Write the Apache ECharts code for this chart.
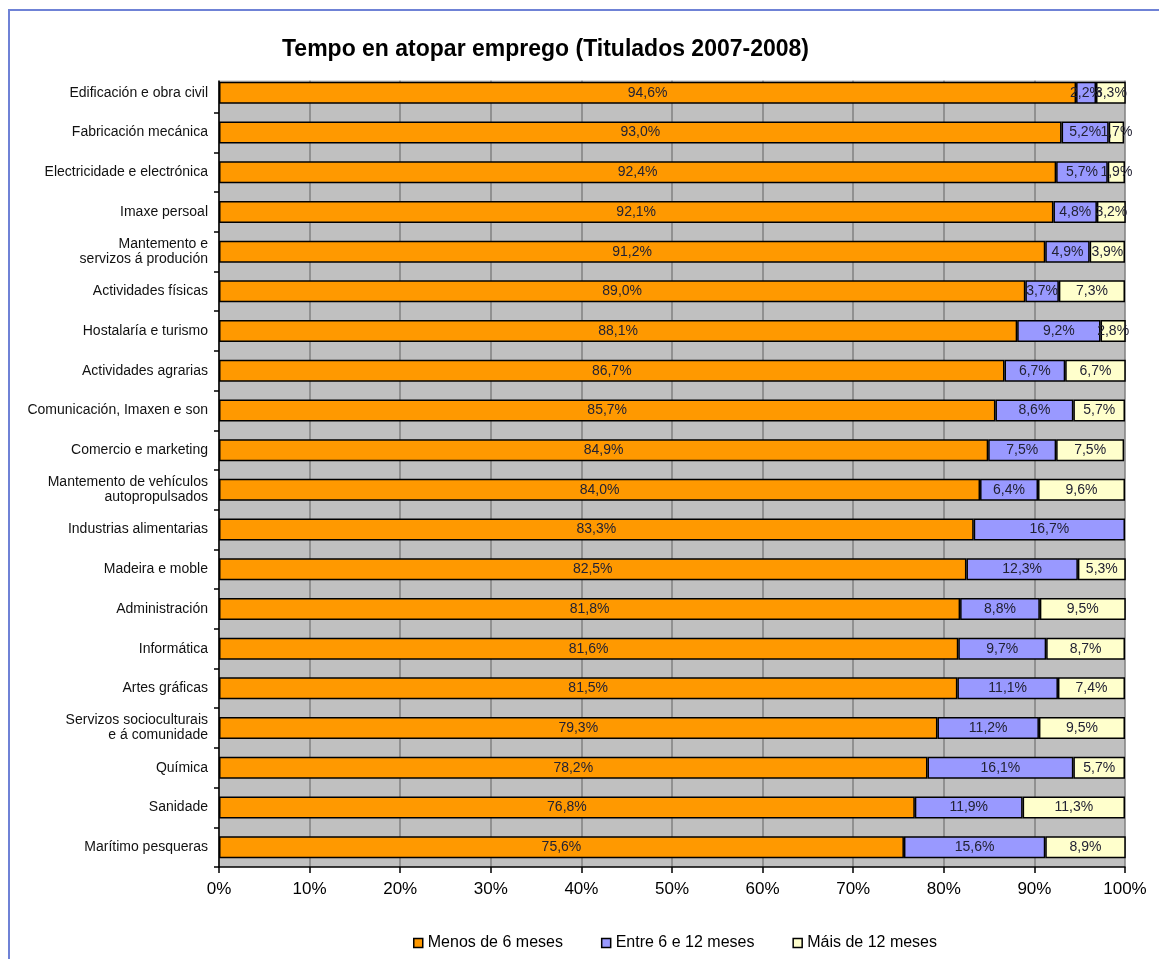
<!DOCTYPE html>
<html>
<head>
<meta charset="utf-8">
<script src="https://cdn.jsdelivr.net/npm/echarts@6/dist/echarts.min.js"></script>
<style>
html,body{margin:0;padding:0;background:#fff;}
#chart{width:1159px;height:959px;}
</style>
</head>
<body>
<div id="chart"></div>
<script>
const categories = [
  'Edificación e obra civil',
  'Fabricación mecánica',
  'Electricidade e electrónica',
  'Imaxe persoal',
  'Mantemento e\nservizos á produción',
  'Actividades físicas',
  'Hostalaría e turismo',
  'Actividades agrarias',
  'Comunicación, Imaxen e son',
  'Comercio e marketing',
  'Mantemento de vehículos\nautopropulsados',
  'Industrias alimentarias',
  'Madeira e moble',
  'Administración',
  'Informática',
  'Artes gráficas',
  'Servizos socioculturais\ne á comunidade',
  'Química',
  'Sanidade',
  'Marítimo pesqueras'
];
const menos6 = [94.6, 93.0, 92.4, 92.1, 91.2, 89.0, 88.1, 86.7, 85.7, 84.9, 84.0, 83.3, 82.5, 81.8, 81.6, 81.5, 79.3, 78.2, 76.8, 75.6];
const entre6e12 = [2.2, 5.2, 5.7, 4.8, 4.9, 3.7, 9.2, 6.7, 8.6, 7.5, 6.4, 16.7, 12.3, 8.8, 9.7, 11.1, 11.2, 16.1, 11.9, 15.6];
const mais12 = [3.3, 1.7, 1.9, 3.2, 3.9, 7.3, 2.8, 6.7, 5.7, 7.5, 9.6, null, 5.3, 9.5, 8.7, 7.4, 9.5, 5.7, 11.3, 8.9];
const seriesNames = ['Menos de 6 meses', 'Entre 6 e 12 meses', 'Máis de 12 meses'];
const xTicks = [0, 10, 20, 30, 40, 50, 60, 70, 80, 90, 100];

const colors = ['#FF9900', '#9999FF', '#FFFFCC'];
const font = 'Arial, "Liberation Sans", sans-serif';

function fmt(v) {
  return v.toFixed(1).replace('.', ',') + '%';
}

const chart = echarts.init(document.getElementById('chart'));
const dataSets = [menos6, entre6e12, mais12];

const series = dataSets.map((d, i) => ({
  name: seriesNames[i],
  type: 'bar',
  stack: 'total',
  barWidth: 22,
  data: d,
  itemStyle: { color: colors[i], borderColor: '#000', borderWidth: 1.5 },
  label: {
    show: true,
    position: 'inside',
    color: '#222233',
    fontFamily: font,
    fontSize: 14,
    formatter: p => (p.value == null ? '' : fmt(p.value))
  },
  emphasis: { disabled: true }
}));

chart.setOption({
  animation: false,
  backgroundColor: '#fff',
  title: {
    text: 'Tempo en atopar emprego (Titulados 2007-2008)',
    left: 277,
    top: 33,
    textStyle: { fontFamily: font, fontSize: 23, fontWeight: 'bold', color: '#000' }
  },
  legend: {
    data: seriesNames,
    left: 408,
    top: 930,
    itemWidth: 9,
    itemHeight: 9,
    itemGap: 38,
    icon: 'rect',
    textStyle: { fontFamily: font, fontSize: 16, color: '#000' },
    itemStyle: { borderColor: '#000', borderWidth: 1.5 }
  },
  grid: {
    left: 219,
    right: 34,
    top: 73,
    bottom: 92,
    show: true,
    backgroundColor: '#C0C0C0',
    borderWidth: 0
  },
  xAxis: {
    type: 'value',
    min: 0,
    max: 100,
    interval: 10,
    axisLine: { show: true, lineStyle: { color: '#000', width: 1.5 } },
    axisTick: { show: true, length: 6, lineStyle: { color: '#000', width: 1.5 } },
    axisLabel: {
      fontFamily: font, fontSize: 17, color: '#000', margin: 14,
      formatter: v => (xTicks.includes(v) ? v + '%' : '')
    },
    splitLine: { show: true, lineStyle: { color: '#808080', width: 1.5 } }
  },
  yAxis: {
    type: 'category',
    inverse: true,
    data: categories,
    axisLine: { show: true, lineStyle: { color: '#000', width: 1.5 } },
    axisTick: { show: true, length: 5, lineStyle: { color: '#000', width: 1.5 } },
    axisLabel: {
      fontFamily: font, fontSize: 14, color: '#111', margin: 11, lineHeight: 15,
      align: 'right'
    }
  },
  graphic: [
    {
      type: 'rect',
      z: 1,
      shape: { x: 205, y: 68, width: 940, height: 12.5 },
      style: { fill: '#fff' }
    },
    {
      type: 'polyline',
      z: 1,
      shape: { points: [[9, 970], [9, 10], [1170, 10]] },
      style: { fill: null, stroke: '#6f82d6', lineWidth: 2 }
    }
  ],
  series: series
});
</script>
</body>
</html>
